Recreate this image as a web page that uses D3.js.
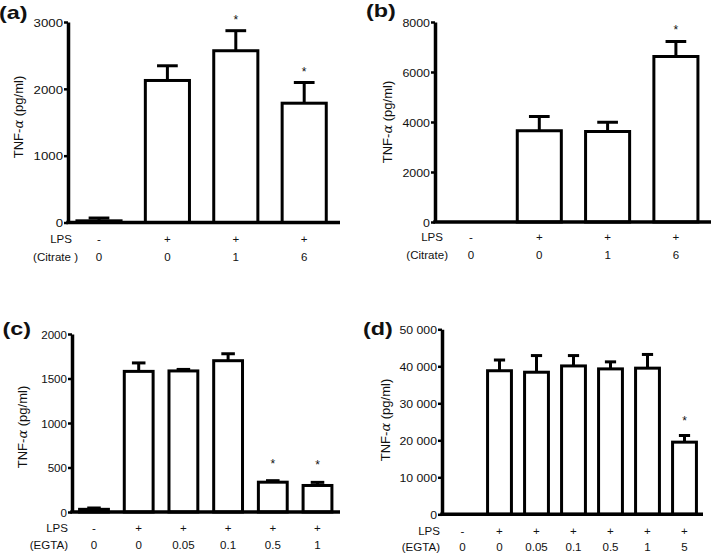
<!DOCTYPE html>
<html><head><meta charset="utf-8">
<script src="https://cdn.jsdelivr.net/npm/d3@7"></script>
<style>
body{margin:0;background:#fff}
svg{display:block}
text{font-family:Arial,"Liberation Sans",Helvetica,sans-serif;fill:#111}
</style>
</head><body>
<svg id="chart" width="711" height="555"></svg>
<script>
// ---------- Panel (a) ----------
const lpsA = ["-", "+", "+", "+"];
const citrateA = ["0", "0", "1", "6"];
const tnfA = [25, 2125, 2570, 1785];
const errTopA = [67, 2345, 2870, 2095];
const sigA = [0, 0, 1, 1];
const ticksA = [0, 1000, 2000, 3000];
const tickLabelsA = ["0", "1000", "2000", "3000"];
const rowNamesA = ["LPS", "(Citrate )"];

// ---------- Panel (b) ----------
const lpsB = ["-", "+", "+", "+"];
const citrateB = ["0", "0", "1", "6"];
const tnfB = [0, 3650, 3620, 6620];
const errTopB = [0, 4220, 3990, 7220];
const sigB = [0, 0, 0, 1];
const ticksB = [0, 2000, 4000, 6000, 8000];
const tickLabelsB = ["0", "2000", "4000", "6000", "8000"];
const rowNamesB = ["LPS", "(Citrate)"];

// ---------- Panel (c) ----------
const lpsC = ["-", "+", "+", "+", "+", "+"];
const egtaC = ["0", "0", "0.05", "0.1", "0.5", "1"];
const tnfC = [30, 1580, 1585, 1700, 335, 298];
const errTopC = [45, 1675, 1602, 1778, 352, 333];
const sigC = [0, 0, 0, 0, 1, 1];
const ticksC = [0, 500, 1000, 1500, 2000];
const tickLabelsC = ["0", "500", "1000", "1500", "2000"];
const rowNamesC = ["LPS", "(EGTA)"];

// ---------- Panel (d) ----------
const lpsD = ["-", "+", "+", "+", "+", "+", "+"];
const egtaD = ["0", "0", "0.05", "0.1", "0.5", "1", "5"];
const tnfD = [0, 38800, 38400, 40100, 39300, 39500, 19500];
const errTopD = [0, 41700, 42900, 42900, 41200, 43200, 21300];
const sigD = [0, 0, 0, 0, 0, 0, 1];
const ticksD = [0, 10000, 20000, 30000, 40000, 50000];
const tickLabelsD = ["0", "10 000", "20 000", "30 000", "40 000", "50 000"];
const rowNamesD = ["LPS", "(EGTA)"];

const panelNames = ["(a)", "(b)", "(c)", "(d)"];

// ---------- layout (positions only) ----------
const layouts = [
  {x0:68,  y0:222.5, y1:22,  c0:99,  step:68.4, xEnd:340, sx:1.15, star:13.5,
   rows:[238.5,257.3], rowRight:[72,78], title:[18,117], lab:[-1,18.5]},
  {x0:435, y0:222,   y1:22,  c0:471, step:68.3, xEnd:711, sx:1.08, star:15,
   rows:[236.7,254.5], rowRight:[443,448], title:[387,122], lab:[366,17]},
  {x0:72,  y0:512,   y1:334, c0:94,  step:44.7, xEnd:340, sx:1.01, star:20,
   rows:[528,545], rowRight:[68,68], title:[22,427], lab:[2.5,334.5]},
  {x0:442, y0:514.3, y1:329.3, c0:462.5, step:37.0, xEnd:703, sx:1.07, star:17,
   rows:[530.7,547], rowRight:[440,440], title:[385,420], lab:[363,334.5]}
];

const datasets = [
  {vals:tnfA, tops:errTopA, sig:sigA, ticks:ticksA, tickLabels:tickLabelsA, rowVals:[lpsA, citrateA], rowNames:rowNamesA},
  {vals:tnfB, tops:errTopB, sig:sigB, ticks:ticksB, tickLabels:tickLabelsB, rowVals:[lpsB, citrateB], rowNames:rowNamesB},
  {vals:tnfC, tops:errTopC, sig:sigC, ticks:ticksC, tickLabels:tickLabelsC, rowVals:[lpsC, egtaC], rowNames:rowNamesC},
  {vals:tnfD, tops:errTopD, sig:sigD, ticks:ticksD, tickLabels:tickLabelsD, rowVals:[lpsD, egtaD], rowNames:rowNamesD}
];

const svg = d3.select("#chart");

function drawPanel(L, D, name) {
  const g = svg.append("g");
  const n = D.vals.length;
  const y = d3.scaleLinear().domain([0, d3.max(D.ticks)]).range([L.y0, L.y1]);
  const x = d3.scalePoint().domain(d3.range(n)).range([L.c0, L.c0 + L.step * (n - 1)]);
  const bw = L.step * 0.645, cw = bw * 0.47;
  const idx = d3.range(n);

  // bars
  g.selectAll("rect.bar").data(idx).join("rect").attr("class", "bar")
    .attr("x", i => x(i) - bw / 2).attr("y", i => y(D.vals[i]))
    .attr("width", bw).attr("height", i => y(0) - y(D.vals[i]))
    .attr("fill", "#fff").attr("stroke", "#000").attr("stroke-width", 3);

  // error bars
  const eb = idx.filter(i => D.tops[i] > D.vals[i]);
  g.selectAll("line.stem").data(eb).join("line").attr("class", "stem")
    .attr("x1", i => x(i)).attr("x2", i => x(i))
    .attr("y1", i => y(D.vals[i])).attr("y2", i => y(D.tops[i]))
    .attr("stroke", "#000").attr("stroke-width", 3);
  g.selectAll("line.cap").data(eb).join("line").attr("class", "cap")
    .attr("x1", i => x(i) - cw / 2).attr("x2", i => x(i) + cw / 2)
    .attr("y1", i => y(D.tops[i])).attr("y2", i => y(D.tops[i]))
    .attr("stroke", "#000").attr("stroke-width", 3);

  // significance stars
  g.selectAll("text.star").data(idx.filter(i => D.sig[i])).join("text").attr("class", "star")
    .attr("x", i => x(i)).attr("y", i => y(D.tops[i]) - L.star + 7)
    .attr("text-anchor", "middle").attr("font-size", 12).text("*");

  // y axis
  const ax = d3.axisLeft(y).tickValues(D.ticks)
    .tickFormat((d, i) => D.tickLabels[i]).tickSize(4).tickSizeOuter(0);
  const axg = g.append("g").attr("transform", `translate(${L.x0},0)`).call(ax);
  axg.select(".domain").attr("stroke", "#000").attr("stroke-width", 3.5);
  axg.selectAll(".tick line").attr("stroke", "#000").attr("stroke-width", 2.5);
  axg.selectAll(".tick text").attr("x", 0).attr("dy", null)
    .attr("transform", `translate(-5,4.2) scale(${L.sx},1)`)
    .attr("font-size", 11.5).attr("fill", "#111");
  axg.attr("font-family", null);

  // baseline
  g.append("line").attr("x1", L.x0 - 1.75).attr("x2", L.xEnd)
    .attr("y1", y(0)).attr("y2", y(0)).attr("stroke", "#000").attr("stroke-width", 3.5);

  // y title
  const t = g.append("text").attr("transform", `translate(${L.title[0]},${L.title[1]}) rotate(-90)`)
    .attr("text-anchor", "middle").attr("dy", "0.35em").attr("font-size", 13);
  t.append("tspan").text("TNF-");
  t.append("tspan").attr("font-style", "italic").attr("font-family", "'DejaVu Serif',serif").text("α");
  t.append("tspan").text(" (pg/ml)");

  // row labels and category values
  D.rowVals.forEach((vals, r) => {
    const ry = L.rows[r];
    g.append("text").attr("transform", `translate(${L.rowRight[r]},${ry + 4}) scale(1.05,1)`)
      .attr("text-anchor", "end").attr("font-size", 11).text(D.rowNames[r]);
    g.selectAll(`text.row${r}`).data(vals).join("text").attr("class", `row${r}`)
      .attr("transform", (d, i) => `translate(${x(i)},${ry + 4}) scale(1.05,1)`)
      .attr("text-anchor", "middle").attr("font-size", 11).text(d => d);
  });

  // panel label
  g.append("text").attr("transform", `translate(${L.lab[0]},${L.lab[1]}) scale(1.3,1)`)
    .attr("font-size", 18).attr("font-weight", "bold").attr("fill", "#000").text(name);
}

layouts.forEach((L, k) => drawPanel(L, datasets[k], panelNames[k]));
</script>
</body></html>
